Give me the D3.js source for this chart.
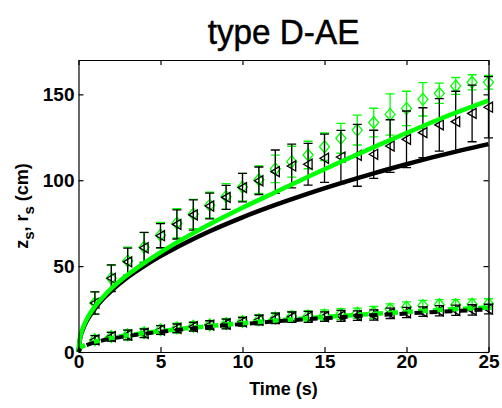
<!doctype html>
<html>
<head>
    <meta charset="utf-8">
    <style>
        body {
            margin: 0;
            background: #fff;
            font-family: 'Liberation Sans', Arial, sans-serif;
        }

        svg {
            display: block;
        }

        text.title {
            font-size: 36px;
            stroke: #000;
            stroke-width: 0.5;
        }

        .axis text {
            font-family: 'Liberation Sans', Arial, sans-serif;
            font-size: 19px;
            font-weight: bold;
            fill: #000;
        }

        .axis line, .axis path {
            stroke: #000;
            stroke-width: 1.2;
        }

        text.label {
            font-size: 18px;
            font-weight: bold;
        }
    </style>
    <script src="https://d3js.org/d3.v7.min.js"></script>
</head>
<body>
<svg width="502" height="408"></svg>
<script>
    // measured points, t = 1..25 s
    const times = d3.range(1, 26)

    const upperBlack = [28.5, 42.9, 52.5, 60.7, 67.7, 74.3, 79.8, 85, 90, 95.7, 99.7, 105, 108.3,
        109.3, 112.8, 113.5, 114.5, 115.1, 119.9, 123.8, 127.7, 132.2, 134.1, 138.9, 142.5]
    const upperBlackErr = [6.5, 7.8, 8, 9, 7, 8.5, 8.8, 7.5, 7, 8.3, 8, 12.6, 12.7,
        12.2, 14, 15.5, 18, 14, 15.3, 16.5, 14.5, 15.3, 17.7, 16.5, 17.8]

    const upperGreen = [28.5, 43, 53, 61, 68, 75, 80.3, 85.5, 90.5, 96, 100.3, 106.6, 110.8,
        114.7, 119.5, 124.4, 129.2, 133.6, 138.3, 141.8, 147.1, 150.6, 154.9, 157, 157]
    const upperGreenErr = [6.5, 7.5, 8, 8.5, 7.5, 8.5, 8.5, 7.5, 7.5, 8, 8, 8, 9,
        8, 8, 8.7, 8.7, 8.3, 12, 10, 9.7, 5.9, 4.9, 4.4, 4]

    const lowerBlack = [7, 8.9, 9.9, 10.9, 12.8, 13.8, 14.7, 15.7, 16.3, 17.6, 18.6, 19.6, 20.3,
        20.5, 20.6, 21, 21.2, 21.5, 22.5, 23, 23.5, 24, 24.3, 24.5, 25]
    const lowerBlackErr = [2.5, 2.5, 2.8, 2.5, 2.5, 2.5, 2.5, 2.5, 2.8, 2.5, 2.8, 3, 3,
        3.2, 2.8, 3.2, 2.8, 3, 3, 3, 2.8, 3, 3, 3, 2.8]

    const lowerGreen = [7.2, 9, 10, 11.2, 13, 14, 15, 15.8, 16.6, 17.8, 18.8, 19.8, 20.6,
        21, 21.5, 22, 22.6, 23, 25, 26, 27, 27.5, 27.5, 27.8, 28]
    const lowerGreenErr = [2.5, 2.5, 2.8, 2.5, 2.5, 2.8, 2.5, 2.5, 2.8, 2.5, 2.8, 3, 3,
        3, 3, 3.2, 3, 3.5, 3, 3.2, 3, 3, 3, 3, 3]

    // model curves
    const tLine = [0, 0.1, 0.25, 0.5, 1, 1.5, 2, 3, 4, 5, 6, 7, 8, 10, 12, 14, 16, 18, 20, 22, 25]
    const modelBlack = [0, 8, 12.7, 18, 25.3, 31, 35.6, 43.5, 50, 55.8, 61, 65.8, 70.3, 78.4,
        85.6, 92.2, 98.3, 104, 109.3, 114.3, 121]
    const modelGreen = [0, 8.5, 13.5, 19, 26.5, 32, 37, 45, 51.8, 58, 63.8, 69.2, 74.4, 84,
        93, 102, 110.8, 119.3, 127.5, 135.5, 146.3]
    const modelLowBlack = [0, 1.8, 2.9, 4, 5.6, 6.8, 7.8, 9.3, 10.6, 11.8, 12.8, 13.8, 14.7,
        16.3, 17.8, 19.1, 20.3, 21.4, 22.4, 23.4, 24.8]
    const modelLowGreen = [0, 2, 3.2, 4.4, 6, 7.2, 8.2, 9.7, 11, 12.2, 13.2, 14.2, 15.1,
        16.8, 18.3, 19.7, 21, 22.2, 23.3, 24.4, 25.9]

    const xTicks = [0, 5, 10, 15, 20, 25]
    const yTicks = [0, 50, 100, 150]

    const GREEN = '#00ff00'

    const svg = d3.select('svg')

    const mLeft = 78.5, mRight = 488.5, mTop = 60, mBottom = 352
    const width = mRight - mLeft
    const height = mBottom - mTop

    const chart = svg.append('g')
        .attr('transform', `translate(${mLeft}, ${mTop})`)

    const xScale = d3.scaleLinear().domain([0, 25]).range([0, width])
    const yScale = d3.scaleLinear().domain([0, 170]).range([height, 0])

    chart.append('clipPath').attr('id', 'clip')
        .append('rect').attr('x', -6).attr('y', -12).attr('width', width + 12).attr('height', height + 12)

    const plot = chart.append('g').attr('clip-path', 'url(#clip)')

    const tri = d3.symbol().type({
        draw(ctx) {
            ctx.moveTo(-4.5, 0); ctx.lineTo(4, -5); ctx.lineTo(4, 5); ctx.closePath()
        }
    })
    const diamond = d3.symbol().type({
        draw(ctx) {
            ctx.moveTo(0, -6); ctx.lineTo(5, 0); ctx.lineTo(0, 6); ctx.lineTo(-5, 0); ctx.closePath()
        }
    })

    function drawSeries(vals, errs, color, marker) {
        const g = plot.append('g')
        const pts = times.map((t, i) => ({ t: t, v: vals[i], e: errs[i] }))
        const bars = g.selectAll(null).data(pts).enter().append('g')
            .attr('stroke', color).attr('stroke-width', 1.3).attr('fill', 'none')
        bars.append('line')
            .attr('x1', d => xScale(d.t)).attr('x2', d => xScale(d.t))
            .attr('y1', d => yScale(d.v - d.e)).attr('y2', d => yScale(d.v + d.e))
        bars.append('line')
            .attr('x1', d => xScale(d.t) - 4.5).attr('x2', d => xScale(d.t) + 4.5)
            .attr('y1', d => yScale(d.v - d.e)).attr('y2', d => yScale(d.v - d.e))
        bars.append('line')
            .attr('x1', d => xScale(d.t) - 4.5).attr('x2', d => xScale(d.t) + 4.5)
            .attr('y1', d => yScale(d.v + d.e)).attr('y2', d => yScale(d.v + d.e))
        bars.append('path')
            .attr('transform', d => `translate(${xScale(d.t)}, ${yScale(d.v)})`)
            .attr('d', marker())
    }

    drawSeries(upperGreen, upperGreenErr, GREEN, diamond)
    drawSeries(upperBlack, upperBlackErr, '#000', tri)
    drawSeries(lowerGreen, lowerGreenErr, GREEN, diamond)
    drawSeries(lowerBlack, lowerBlackErr, '#000', tri)

    const line = d3.line()
        .x((d, i) => xScale(tLine[i]))
        .y(d => yScale(d))
        .curve(d3.curveMonotoneX)

    plot.append('path').attr('d', line(modelBlack))
        .attr('fill', 'none').attr('stroke', '#000').attr('stroke-width', 4.5)
    plot.append('path').attr('d', line(modelGreen))
        .attr('fill', 'none').attr('stroke', GREEN).attr('stroke-width', 4.5)
    plot.append('path').attr('d', line(modelLowGreen))
        .attr('fill', 'none').attr('stroke', GREEN).attr('stroke-width', 4.5)
        .attr('stroke-dasharray', '10 5')
    plot.append('path').attr('d', line(modelLowBlack))
        .attr('fill', 'none').attr('stroke', '#000').attr('stroke-width', 4)
        .attr('stroke-dasharray', '8 7')
        .attr('stroke-dashoffset', 4)

    // axes, box style
    chart.append('g')
        .attr('class', 'axis')
        .attr('transform', `translate(0, ${height})`)
        .call(d3.axisBottom(xScale).tickValues(xTicks).tickSizeInner(-5).tickSizeOuter(0).tickPadding(2))
    chart.append('g')
        .attr('class', 'axis')
        .call(d3.axisTop(xScale).tickValues(xTicks).tickSizeInner(-5).tickSizeOuter(0).tickFormat(''))
    chart.append('g')
        .attr('class', 'axis')
        .call(d3.axisLeft(yScale).tickValues(yTicks).tickSizeInner(-5).tickSizeOuter(0).tickPadding(4))
    chart.append('g')
        .attr('class', 'axis')
        .attr('transform', `translate(${width}, 0)`)
        .call(d3.axisRight(yScale).tickValues(yTicks).tickSizeInner(-5).tickSizeOuter(0).tickFormat(''))

    svg.append('text')
        .attr('class', 'title')
        .attr('transform', `translate(${(mLeft + mRight) / 2}, 44) scale(0.925, 1)`)
        .attr('text-anchor', 'middle')
        .text('type D-AE')

    svg.append('text')
        .attr('class', 'label')
        .attr('x', (mLeft + mRight) / 2)
        .attr('y', 395)
        .attr('text-anchor', 'middle')
        .text('Time (s)')

    const ylab = svg.append('text')
        .attr('class', 'label')
        .attr('transform', `translate(28, ${(mTop + mBottom) / 2}) rotate(-90)`)
        .attr('text-anchor', 'middle')
    ylab.append('tspan').text('z')
    ylab.append('tspan').attr('dy', 6).attr('font-size', 15).text('s')
    ylab.append('tspan').attr('dy', -6).text(', r')
    ylab.append('tspan').attr('dy', 6).attr('font-size', 15).text('s')
    ylab.append('tspan').attr('dy', -6).text(' (cm)')
</script>
</body>
</html>
